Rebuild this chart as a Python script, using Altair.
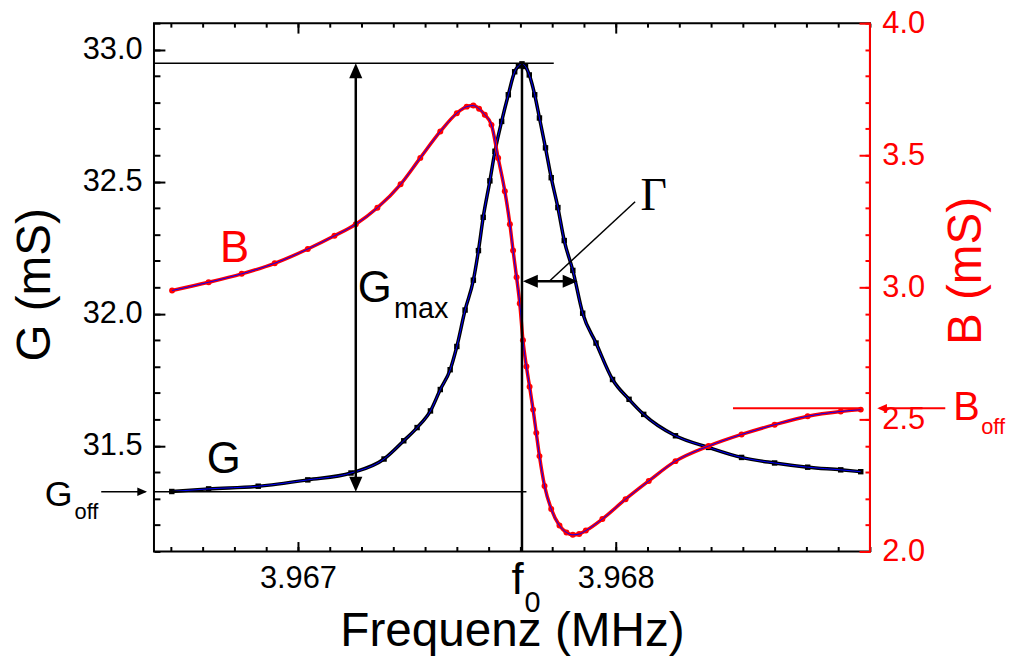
import altair as alt
import pandas as pd

# ---------------- data ----------------
g_freq = [3.966603, 3.966719, 3.966875, 3.967031, 3.967167, 3.967271, 3.967333,
          3.967375, 3.967417, 3.967448, 3.967479, 3.967500, 3.967526, 3.967552,
          3.967568, 3.967583, 3.967604, 3.967620, 3.967641, 3.967662, 3.967682,
          3.967694, 3.967705, 3.967716, 3.967728, 3.967745, 3.967760, 3.967779,
          3.967797, 3.967818, 3.967838, 3.967865, 3.967896, 3.967938, 3.967990,
          3.968042, 3.968088, 3.968188, 3.968292, 3.968396, 3.968500, 3.968604,
          3.968708, 3.968771]
g_val = [31.327, 31.337, 31.347, 31.371, 31.397, 31.450, 31.519,
         31.569, 31.632, 31.713, 31.788, 31.876, 32.014, 32.127,
         32.239, 32.365, 32.503, 32.615, 32.728, 32.829, 32.916,
         32.938, 32.946, 32.936, 32.904, 32.829, 32.741, 32.628,
         32.515, 32.402, 32.277, 32.164, 32.002, 31.889, 31.751,
         31.676, 31.619, 31.538, 31.494, 31.456, 31.435, 31.419,
         31.409, 31.402]

b_freq = [3.966604, 3.966719, 3.966823, 3.966927, 3.967031, 3.967115, 3.967182,
          3.967250, 3.967323, 3.967385, 3.967448, 3.967500, 3.967531, 3.967552,
          3.967570, 3.967588, 3.967609, 3.967630, 3.967651, 3.967667, 3.967677,
          3.967688, 3.967698, 3.967708, 3.967719, 3.967729, 3.967740, 3.967750,
          3.967760, 3.967776, 3.967797, 3.967823, 3.967845, 3.967865, 3.967885,
          3.967906, 3.967958, 3.968031, 3.968104, 3.968188, 3.968292, 3.968396,
          3.968500, 3.968604, 3.968708, 3.968771]
b_val = [2.988, 3.019, 3.051, 3.091, 3.145, 3.195, 3.239,
         3.301, 3.390, 3.490, 3.590, 3.659, 3.684, 3.688,
         3.676, 3.653, 3.615, 3.490, 3.364, 3.239, 3.139,
         3.038, 2.939, 2.800, 2.700, 2.624, 2.537, 2.449,
         2.361, 2.248, 2.161, 2.098, 2.072, 2.063, 2.066,
         2.079, 2.123, 2.198, 2.267, 2.342, 2.399, 2.443,
         2.480, 2.512, 2.530, 2.537]

# axis ranges and tick values
x_domain = [3.966547, 3.9688]
g_domain = [31.1, 33.1]
b_domain = [2.0, 4.0]
x_major = [3.967, 3.968]
x_minor = [round(3.9666 + 0.0001 * i, 4) for i in range(23)]
g_major = [31.5, 32.0, 32.5, 33.0]
g_minor = [round(31.1 + 0.1 * i, 1) for i in range(21)]
b_major = [2.0, 2.5, 3.0, 3.5, 4.0]
b_minor = [round(2.0 + 0.1 * i, 1) for i in range(21)]

# annotation anchor values (data units)
f0 = 3.967705
g_max_level = 32.948
g_off_level = 31.326
b_off_level = 2.542
gmax_arrow_f = 3.967182
gamma_level = 32.123
gamma_f = [3.967708, 3.967880]
gamma_leader = [3.967791, 32.123, 3.968061, 32.424]

FONT = "Liberation Sans"
RED = "#ff0000"
BLUE = "#0000ff"

g_df = pd.DataFrame({"f": g_freq, "v": g_val})
b_df = pd.DataFrame({"f": b_freq, "v": b_val})


def xs():
    return alt.Scale(domain=x_domain, nice=False, zero=False)


def gs():
    return alt.Scale(domain=g_domain, nice=False, zero=False)


def bs():
    return alt.Scale(domain=b_domain, nice=False, zero=False)


def minor_axis(orient, values, size, color="black"):
    return alt.Axis(orient=orient, values=values, labels=False, domain=False,
                    grid=False, title=None, tickSize=size, offset=-size,
                    tickWidth=2, tickColor=color)


# ---------------- data layers with axes ----------------
g_band = alt.Chart(g_df).mark_line(color="black", strokeWidth=3.5,
                                   interpolate="monotone").encode(
    x=alt.X("f:Q", scale=xs(), axis=None),
    y=alt.Y("v:Q", scale=gs(), axis=None),
)

g_points = alt.Chart(g_df).mark_square(size=30, color="black", opacity=1).encode(
    x=alt.X("f:Q", scale=xs(), axis=alt.Axis(
        orient="bottom", values=x_major, format=".3f", offset=-10, tickSize=10,
        tickWidth=2, tickColor="black", domain=False, grid=False,
        labelFont=FONT, labelFontSize=31, labelColor="black", labelPadding=12,
        labelFlush=False, labelOverlap=False,
        title="Frequenz (MHz)", titleFont=FONT, titleFontSize=48,
        titleFontWeight="normal", titleColor="black", titleX=360.5, titleY=105,
        titleAlign="center", titleBaseline="alphabetic")),
    y=alt.Y("v:Q", scale=gs(), axis=alt.Axis(
        orient="left", values=g_major, format=".1f", offset=-11, tickSize=11,
        tickWidth=2, tickColor="black", domain=False, grid=False,
        labelFont=FONT, labelFontSize=31, labelColor="black", labelPadding=12,
        labelOverlap=False,
        title="G (mS)", titleFont=FONT, titleFontSize=48, titleFontWeight="normal",
        titleColor="black", titleAngle=270, titleX=-116, titleY=263,
        titleAlign="center", titleBaseline="alphabetic")),
)

g_line = alt.Chart(g_df).mark_line(color=BLUE, strokeWidth=1,
                                   interpolate="monotone").encode(
    x=alt.X("f:Q", scale=xs(), axis=minor_axis("bottom", x_minor, 5)),
    y=alt.Y("v:Q", scale=gs(), axis=minor_axis("left", g_minor, 6)),
)

b_band = alt.Chart(b_df).mark_line(color=RED, strokeWidth=3.5,
                                   interpolate="monotone").encode(
    x=alt.X("f:Q", scale=xs(), axis=None),
    y=alt.Y("v:Q", scale=bs(), axis=None),
)

b_points = alt.Chart(b_df).mark_circle(size=36, color=RED, opacity=1).encode(
    x=alt.X("f:Q", scale=xs(), axis=alt.Axis(
        orient="top", values=x_major, labels=False, domain=False, grid=False,
        title=None, tickSize=10, offset=-10, tickWidth=2, tickColor="black")),
    y=alt.Y("v:Q", scale=bs(), axis=alt.Axis(
        orient="right", values=b_major, format=".1f", offset=-11, tickSize=11,
        tickWidth=2, tickColor=RED, domain=False, grid=False,
        labelFont=FONT, labelFontSize=31, labelColor=RED, labelPadding=12,
        labelOverlap=False,
        title="B (mS)", titleFont=FONT, titleFontSize=48, titleFontWeight="normal",
        titleColor=RED, titleAngle=270, titleX=122, titleY=249,
        titleAlign="center", titleBaseline="alphabetic")),
)

b_line = alt.Chart(b_df).mark_line(color=BLUE, strokeWidth=1,
                                   interpolate="monotone").encode(
    x=alt.X("f:Q", scale=xs(), axis=minor_axis("top", x_minor, 4)),
    y=alt.Y("v:Q", scale=bs(), axis=minor_axis("right", b_minor, 5, RED)),
)

# ---------------- annotations ----------------
def rules(df, scale, color="black", width=1.5):
    return alt.Chart(df).mark_rule(color=color, strokeWidth=width).encode(
        x=alt.X("x1:Q", scale=xs(), axis=None), x2="x2:Q",
        y=alt.Y("y1:Q", scale=scale, axis=None), y2="y2:Q")


ARROW = "M0,0L-0.44,1L0.44,1Z"


def heads(df, scale, size, color="black"):
    return alt.Chart(df).mark_point(shape=ARROW, filled=True, opacity=1,
                                    color=color, strokeWidth=0).encode(
        x=alt.X("x:Q", scale=xs(), axis=None),
        y=alt.Y("y:Q", scale=scale, axis=None),
        angle=alt.Angle("a:Q", scale=None),
        size=alt.value(size))


def labels(df, scale, size, color="black", font=FONT):
    return alt.Chart(df).mark_text(align="left", baseline="alphabetic", font=font,
                                   fontSize=size, color=color).encode(
        x=alt.X("x:Q", scale=xs(), axis=None),
        y=alt.Y("y:Q", scale=scale, axis=None),
        text="t:N")


thin_g = pd.DataFrame({
    "x1": [x_domain[0], x_domain[0], gamma_leader[0], 3.966381],
    "x2": [3.967805, 3.967719, gamma_leader[2], 3.966520],
    "y1": [g_max_level, g_off_level, gamma_leader[1], g_off_level],
    "y2": [g_max_level, g_off_level, gamma_leader[3], g_off_level],
})
thick_g = pd.DataFrame({
    "x1": [f0, gmax_arrow_f, gamma_f[0] + 0.00001],
    "x2": [f0, gmax_arrow_f, gamma_f[1] - 0.00001],
    "y1": [g_max_level, g_max_level - 0.02, gamma_level],
    "y2": [g_domain[0], g_off_level + 0.02, gamma_level],
})
red_b = pd.DataFrame({
    "x1": [3.968369, 3.968830, x_domain[1]],
    "x2": [3.968771, 3.969037, x_domain[1]],
    "y1": [b_off_level, b_off_level, b_domain[0]],
    "y2": [b_off_level, b_off_level, b_domain[1]],
})

big_heads = pd.DataFrame({
    "x": [gmax_arrow_f, gmax_arrow_f, gamma_f[0], gamma_f[1]],
    "y": [g_max_level, g_off_level, gamma_level, gamma_level],
    "a": [0, 180, 270, 90],
})
small_head_g = pd.DataFrame({"x": [3.966525], "y": [g_off_level], "a": [90]})
small_head_b = pd.DataFrame({"x": [3.968823], "y": [b_off_level], "a": [270]})

text_g_big = pd.DataFrame({"x": [3.966713, 3.967188, 3.967672],
                           "y": [31.397, 32.044, 30.940],
                           "t": ["G", "G", "f"]})
text_g_sub = pd.DataFrame({"x": [3.967302, 3.967713],
                           "y": [31.983, 30.872],
                           "t": ["max", "0"]})
text_goff = pd.DataFrame({"x": [3.966203], "y": [31.274], "t": ["G"]})
text_goff_sub = pd.DataFrame({"x": [3.966297], "y": [31.222], "t": ["off"]})
text_b = pd.DataFrame({"x": [3.966755], "y": [3.095], "t": ["B"]})
text_boff = pd.DataFrame({"x": [3.969062], "y": [2.4965], "t": ["B"]})
text_boff_sub = pd.DataFrame({"x": [3.969150], "y": [2.443], "t": ["off"]})
text_gamma = pd.DataFrame({"x": [3.968078], "y": [32.392], "t": ["Γ"]})

layers = [
    g_band, g_points, g_line, b_band, b_points, b_line,
    rules(thin_g, gs(), width=1.5),
    rules(thick_g, gs(), width=2.5),
    rules(red_b, bs(), color=RED, width=2),
    heads(big_heads, gs(), 900),
    heads(small_head_g, gs(), 380),
    heads(small_head_b, bs(), 380, RED),
    labels(text_g_big, gs(), 44),
    labels(text_g_sub, gs(), 29),
    labels(text_goff, gs(), 36),
    labels(text_goff_sub, gs(), 22),
    labels(text_b, bs(), 44, RED),
    labels(text_boff, bs(), 40, RED),
    labels(text_boff_sub, bs(), 22, RED),
    labels(text_gamma, gs(), 46, font="Liberation Serif"),
]

chart = alt.layer(*layers).resolve_scale(x="independent", y="independent").resolve_axis(
    x="independent", y="independent"
).properties(
    width=721, height=532,
    autosize=alt.AutoSizeParams(type="none"),
    padding={"left": 147, "top": 13, "right": 138, "bottom": 104},
    background="white",
).configure_view(stroke="black", strokeWidth=2)

chart.save("out.html", embed_options={"renderer": "svg", "actions": False})
